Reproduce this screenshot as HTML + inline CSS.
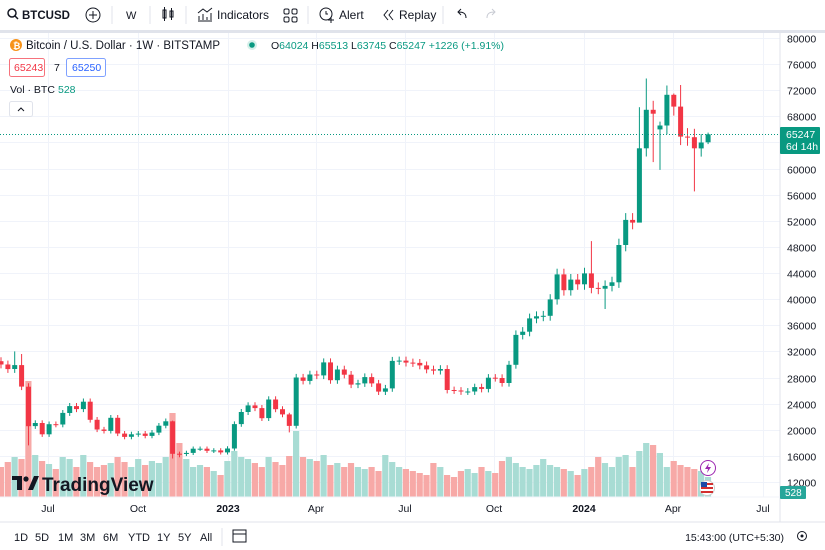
<!DOCTYPE html>
<html><head><meta charset="utf-8">
<style>
html,body{margin:0;padding:0;background:#fff;width:825px;height:550px;overflow:hidden;font-family:"Liberation Sans",sans-serif;color:#131722}
svg{display:block}
</style></head><body>
<svg id="s" width="825" height="550" xmlns="http://www.w3.org/2000/svg" font-family="Liberation Sans, sans-serif">
<rect width="825" height="550" fill="#fff"/>
<g id="grid"></g>
<g id="vol"></g>
<g id="cdl"></g>
<!-- toolbar -->
<rect x="0" y="0" width="825" height="30" fill="#fff"/>
<rect x="0" y="30" width="825" height="3" fill="#e0e3eb"/>
<g font-size="12" fill="#131722">
<circle cx="12" cy="13" r="4" fill="none" stroke="#131722" stroke-width="1.5"/><line x1="15" y1="16" x2="18" y2="19" stroke="#131722" stroke-width="1.5"/>
<text x="22" y="19" font-weight="bold" font-size="11.5">BTCUSD</text>
<circle cx="93" cy="15" r="7" fill="none" stroke="#131722"/><line x1="89" y1="15" x2="97" y2="15" stroke="#131722"/><line x1="93" y1="11" x2="93" y2="19" stroke="#131722"/>
<line x1="112" y1="6" x2="112" y2="24" stroke="#e0e3eb"/>
<text x="126" y="19" font-size="11">W</text>
<line x1="150" y1="6" x2="150" y2="24" stroke="#e0e3eb"/>
<rect x="163" y="10" width="3" height="8" fill="none" stroke="#131722"/><line x1="164.5" y1="7" x2="164.5" y2="21" stroke="#131722"/>
<rect x="170" y="11" width="3" height="6" fill="none" stroke="#131722"/><line x1="171.5" y1="8" x2="171.5" y2="20" stroke="#131722"/>
<line x1="186" y1="6" x2="186" y2="24" stroke="#e0e3eb"/>
<path d="M198 21h14M199 20v-4M203 20v-6M207 20v-3M211 20v-7M198 13l5-4 4 3 5-4" fill="none" stroke="#131722"/>
<text x="217" y="19">Indicators</text>
<rect x="284" y="9" width="5" height="5" rx="1.5" fill="none" stroke="#131722"/><rect x="292" y="9" width="5" height="5" rx="1.5" fill="none" stroke="#131722"/><rect x="284" y="17" width="5" height="5" rx="1.5" fill="none" stroke="#131722"/><rect x="292" y="17" width="5" height="5" rx="1.5" fill="none" stroke="#131722"/>
<line x1="308" y1="6" x2="308" y2="24" stroke="#e0e3eb"/>
<circle cx="326" cy="14" r="6" fill="none" stroke="#131722"/><path d="M326 11v3h2M328 20h6M331 17v6" stroke="#131722" fill="none"/>
<text x="339" y="19">Alert</text>
<path d="M388 10l-4 5 4 5M393 10l-4 5 4 5" fill="none" stroke="#131722"/>
<text x="399" y="19">Replay</text>
<line x1="443" y1="6" x2="443" y2="24" stroke="#e0e3eb"/>
<path d="M466 18c0-5-3-6-8-6M461 9l-3 3 3 3" fill="none" stroke="#131722"/>
<path d="M487 18c0-5 3-6 8-6M492 9l3 3-3 3" fill="none" stroke="#c8cbd3"/>
</g>
<!-- axis -->
<line x1="780" y1="33" x2="780" y2="522" stroke="#e0e3eb"/>
<line x1="0" y1="497" x2="780" y2="497" stroke="#f0f3fa"/>
<line x1="0" y1="522" x2="825" y2="522" stroke="#e0e3eb"/>
<g id="axis" font-size="10.5" fill="#131722"></g>
<g id="tax" font-size="10.5" fill="#131722" text-anchor="middle">
<text x="48" y="512">Jul</text><text x="138" y="512">Oct</text><text x="228" y="512" font-weight="bold">2023</text><text x="316" y="512">Apr</text><text x="405" y="512">Jul</text><text x="494" y="512">Oct</text><text x="584" y="512" font-weight="bold">2024</text><text x="673" y="512">Apr</text><text x="763" y="512">Jul</text>
</g>
<!-- price line -->
<line x1="0" y1="134.5" x2="780" y2="134.5" stroke="#089981" stroke-dasharray="1,2"/>
<rect x="780" y="127" width="40" height="27" fill="#089981" rx="1"/>
<text x="786" y="138" font-size="10.5" fill="#fff">65247</text>
<text x="786" y="150" font-size="10.5" fill="#fff">6d 14h</text>
<rect x="780" y="486" width="26" height="13" fill="#26a69a" rx="1"/>
<text x="785" y="496" font-size="10" fill="#fff">528</text>
<!-- legend -->
<circle cx="16" cy="45" r="6" fill="#f7931a"/><text x="13" y="49" font-size="9" fill="#fff" font-weight="bold">₿</text>
<text x="26" y="49" font-size="11.5" fill="#131722">Bitcoin / U.S. Dollar · 1W · BITSTAMP</text>
<circle cx="252" cy="45" r="5" fill="#d4efe9"/><circle cx="252" cy="45" r="2.8" fill="#089981"/>
<text x="271" y="49" font-size="10.5" fill="#089981"><tspan fill="#131722">O</tspan>64024 <tspan fill="#131722">H</tspan>65513 <tspan fill="#131722">L</tspan>63745 <tspan fill="#131722">C</tspan>65247 +1226 (+1.91%)</text>
<rect x="9.5" y="58.5" width="35" height="18" rx="2" fill="#fff" stroke="#f23645" stroke-opacity="0.7"/>
<text x="14" y="71" font-size="10.5" fill="#f23645">65243</text>
<text x="54" y="71" font-size="10.5" fill="#131722">7</text>
<rect x="66.5" y="58.5" width="39" height="18" rx="2" fill="#fff" stroke="#2962ff" stroke-opacity="0.6"/>
<text x="72" y="71" font-size="10.5" fill="#2962ff">65250</text>
<text x="10" y="93" font-size="10.5" fill="#131722">Vol · BTC</text>
<text x="58" y="93" font-size="10.5" fill="#089981">528</text>
<rect x="9.5" y="101.5" width="23" height="15" rx="2" fill="#fff" stroke="#e0e3eb"/>
<path d="M18 111l3-3 3 3" fill="none" stroke="#131722"/>
<!-- watermark -->
<g fill="#131722">
<path d="M12 476h10v14h-5v-10h-5z"/><circle cx="26" cy="479" r="2.6"/><path d="M28 490l6-14h5l-6 14z"/>
<text x="42" y="491" font-size="19" font-weight="bold">TradingView</text>
</g>
<!-- icons -->
<circle cx="708" cy="468" r="7.5" fill="#fff" stroke="#9c27b0"/><path d="M709 463l-4 6h3l-1 4 4-6h-3z" fill="#9c27b0"/>
<circle cx="707" cy="488" r="7.5" fill="#fff" stroke="#ccc"/>
<rect x="701" y="483" width="12" height="2" fill="#d32f2f"/><rect x="701" y="487" width="12" height="2" fill="#d32f2f"/><rect x="701" y="491" width="12" height="2" fill="#d32f2f"/><rect x="701" y="482" width="6" height="5" fill="#1a4aa8"/>
<!-- bottom bar -->
<g font-size="11" fill="#131722">
<text x="14" y="541">1D</text><text x="35" y="541">5D</text><text x="58" y="541">1M</text><text x="80" y="541">3M</text><text x="103" y="541">6M</text><text x="128" y="541">YTD</text><text x="157" y="541">1Y</text><text x="178" y="541">5Y</text><text x="200" y="541">All</text>
<line x1="222" y1="528" x2="222" y2="546" stroke="#e0e3eb"/>
<rect x="233" y="530" width="13" height="12" fill="none" stroke="#131722"/><line x1="233" y1="534" x2="246" y2="534" stroke="#131722"/>
<text x="784" y="541" text-anchor="end" font-size="10.5">15:43:00 (UTC+5:30)</text>
<circle cx="802" cy="536" r="4.5" fill="none" stroke="#131722"/><circle cx="802" cy="536" r="1.5" fill="#131722"/>
</g>
</svg>
<script>
var NS="http://www.w3.org/2000/svg";
function el(p,t,a,txt){var e=document.createElementNS(NS,t);for(var k in a)e.setAttribute(k,a[k]);if(txt!=null)e.textContent=txt;document.getElementById(p).appendChild(e);return e;}
function Y(p){return 38+(80000-p)*444/68000;}
for(var p=80000;p>=12000;p-=4000){var y=Math.round(Y(p))+0.5;el("grid","line",{x1:0,y1:y,x2:780,y2:y,stroke:"#f0f3fa"});el("axis","text",{x:787,y:y+4},String(p));}
[48,138,228,316,405,494,584,673,763].forEach(function(x){el("grid","line",{x1:x+.5,y1:33,x2:x+.5,y2:497,stroke:"#f0f3fa"});});
var C=[30000,29300,29900,26600,20550,21030,19300,20850,20800,22580,23630,23170,24300,21530,20040,19830,21830,19420,18920,19310,19420,19070,19570,20630,21300,16330,16290,16460,17100,17100,16780,16840,16540,
17130,20870,22720,23730,23320,21780,24630,23150,22360,20600,28000,27490,28470,28330,30320,27590,29230,28430,26920,27110,28070,27100,25840,26340,30550,30590,30290,30240,29860,29240,29050,29300,26090,26010,25860,25860,26530,26250,27970,27930,27160,29950,34530,35020,37050,37380,37460,39970,43790,41370,43000,42280,
43950,41730,41600,42030,42580,48300,52140,51730,63110,69000,68400,66600,71300,69500,64900,64800,63100,64000,65247];
var V=[30,35,40,38,116,42,36,33,28,40,38,30,42,35,30,32,34,40,35,30,38,32,36,34,40,84,54,38,30,32,30,26,22,
36,46,40,38,34,30,40,35,32,41,66,40,38,36,42,32,34,30,34,30,28,30,26,42,35,30,28,26,24,22,34,30,22,20,26,28,24,30,26,24,36,40,34,30,28,32,38,32,30,28,26,22,
28,30,40,34,30,40,42,30,46,54,52,44,30,36,32,30,28,26,20];
var O={0:30500,96:66000,103:64024};
var H={2:32000,3:31600,25:21400,42:22600,85:44800,86:48900,99:72800,98:71500,96:67200,103:65513,94:73800,93:69400};
var L={4:17600,25:15600,26:15800,42:19600,88:38500,95:61000,96:59800,101:56500,103:63745,93:59000};
for(var i=0;i<C.length;i++){
 var o=(i in O)?O[i]:(i>0?C[i-1]:30500),c=C[i];
 var hi=(i in H)?H[i]:Math.max(o,c)*1.02, lo=(i in L)?L[i]:Math.min(o,c)*0.98;
 var x=1+i*6.865, up=c>=o, col=up?"#089981":"#f23645";
 el("vol","rect",{x:(x-3.2).toFixed(1),y:497-V[i],width:6.2,height:V[i],fill:up?"#a8dcd4":"#f7a9a7"});
 el("cdl","line",{x1:x.toFixed(1),y1:Y(hi).toFixed(1),x2:x.toFixed(1),y2:Y(lo).toFixed(1),stroke:col,"stroke-width":1});
 var y1=Y(Math.max(o,c)),y2=Y(Math.min(o,c));
 el("cdl","rect",{x:(x-2.5).toFixed(1),y:y1.toFixed(1),width:5,height:Math.max(1,y2-y1).toFixed(1),fill:col});
}
</script>
</body></html>
